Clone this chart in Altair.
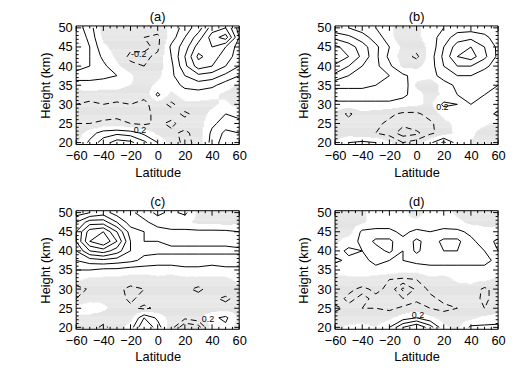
import altair as alt
import numpy as np
import pandas as pd

# ---------------- data ----------------
LATS = [-60, -50, -40, -30, -20, -10, 0, 10, 20, 30, 40, 50, 60]
HEIGHTS_TOP_DOWN = [50, 47.5, 45, 42.5, 40, 37.5, 35, 32.5, 30, 27.5, 25, 22.5, 20]
LEVELS = [-0.8, -0.6, -0.4, -0.2, 0.2, 0.4, 0.6, 0.8, 1.0, 1.2, 1.4, 1.6]
X_TICKS = [-60, -40, -20, 0, 20, 40, 60]
Y_TICKS = [20, 25, 30, 35, 40, 45, 50]
X_MINOR = [-55, -50, -45, -35, -30, -25, -15, -10, -5, 5, 10, 15, 25, 30, 35, 45, 50, 55]
Y_MINOR = [21, 22, 23, 24, 26, 27, 28, 29, 31, 32, 33, 34, 36, 37, 38, 39, 41, 42, 43, 44, 46, 47, 48, 49]
PANEL_TITLES = ["(a)", "(b)", "(c)", "(d)"]

# contour labels: text, latitude, height
LABELS_A = [["-0.2", -14, 43.2], ["0.2", -13, 23.2]]
LABELS_B = [["0.2", 19, 29.3]]
LABELS_C = [["0.2", 37, 22.3]]
LABELS_D = [["0.2", 1, 23.2]]

# rows: height 50 -> 20 ; columns: latitude -60 -> 60
FIELD_A = [
    [0.50, 0.30, -0.10, -0.15, -0.10, -0.15, -0.10, 0.05, 0.30, 0.50, 0.90, 1.00, 0.50],
    [0.55, 0.35, -0.05, -0.10, -0.15, -0.20, -0.25, 0.10, 0.40, 0.70, 1.10, 1.30, 0.60],
    [0.60, 0.40, 0.05, -0.10, -0.15, -0.15, -0.25, 0.25, 0.50, 0.90, 1.00, 0.80, 0.50],
    [0.60, 0.40, 0.15, -0.05, -0.25, -0.25, -0.15, 0.20, 0.60, 1.05, 0.90, 0.70, 0.50],
    [0.50, 0.40, 0.25, 0.05, -0.15, -0.20, -0.10, 0.15, 0.55, 0.90, 0.80, 0.60, 0.40],
    [0.30, 0.25, 0.25, 0.20, 0.05, -0.15, -0.05, 0.15, 0.40, 0.55, 0.50, 0.35, 0.20],
    [0.10, 0.15, 0.10, 0.05, 0.00, -0.10, 0.05, 0.10, 0.25, 0.30, 0.25, 0.10, -0.05],
    [-0.10, -0.10, -0.10, -0.05, -0.10, -0.15, 0.25, -0.05, 0.10, 0.10, 0.05, -0.05, -0.10],
    [-0.20, -0.25, -0.20, -0.25, -0.20, -0.25, -0.10, -0.25, -0.05, -0.05, -0.05, 0.05, -0.10],
    [-0.25, -0.30, -0.30, -0.25, -0.25, -0.25, -0.15, -0.10, -0.25, -0.10, 0.05, 0.20, 0.15],
    [-0.20, -0.20, -0.15, -0.15, -0.20, -0.25, -0.15, -0.25, -0.10, -0.10, 0.15, 0.30, 0.25],
    [-0.10, 0.10, 0.30, 0.35, 0.30, 0.15, -0.05, -0.15, -0.25, -0.10, 0.25, 0.45, 0.40],
    [-0.05, 0.25, 0.50, 0.70, 0.65, 0.45, 0.20, -0.10, -0.25, -0.15, 0.30, 0.50, 0.45],
]
FIELD_B = [
    [0.45, 0.40, 0.30, 0.20, 0.05, -0.15, -0.05, 0.10, 0.20, 0.30, 0.30, 0.30, 0.20],
    [0.75, 0.65, 0.50, 0.30, 0.10, -0.20, -0.05, 0.10, 0.30, 0.50, 0.55, 0.45, 0.30],
    [1.05, 0.90, 0.70, 0.45, 0.20, -0.05, -0.10, 0.05, 0.40, 0.70, 0.80, 0.60, 0.35],
    [1.20, 1.00, 0.75, 0.45, 0.15, -0.10, -0.25, 0.10, 0.45, 0.80, 0.90, 0.65, 0.35],
    [0.95, 0.80, 0.60, 0.45, 0.25, -0.05, -0.05, 0.10, 0.40, 0.60, 0.60, 0.45, 0.30],
    [0.75, 0.60, 0.50, 0.45, 0.40, 0.25, 0.10, 0.10, 0.30, 0.40, 0.40, 0.30, 0.25],
    [0.45, 0.45, 0.45, 0.40, 0.35, 0.35, -0.05, -0.15, 0.10, 0.25, 0.25, 0.25, 0.20],
    [0.30, 0.30, 0.30, 0.30, 0.30, 0.25, 0.10, -0.10, 0.05, 0.20, 0.25, 0.20, 0.15],
    [0.15, 0.15, 0.15, 0.15, 0.15, 0.10, 0.05, -0.05, 0.25, 0.20, 0.20, 0.15, 0.10],
    [-0.05, -0.25, -0.05, -0.10, -0.15, -0.25, -0.25, -0.10, 0.05, 0.15, 0.15, 0.10, 0.25],
    [-0.10, -0.10, -0.10, -0.15, -0.25, -0.35, -0.25, -0.25, -0.05, 0.05, 0.10, 0.05, -0.05],
    [-0.10, -0.10, -0.15, -0.20, -0.30, -0.50, -0.45, -0.25, -0.10, 0.05, 0.05, -0.10, -0.15],
    [0.00, 0.20, 0.25, 0.20, 0.05, -0.20, -0.10, 0.15, 0.45, 0.10, 0.00, -0.10, -0.10],
]
FIELD_C = [
    [0.30, 0.40, 0.50, 0.30, 0.25, 0.10, 0.25, 0.15, 0.25, -0.05, -0.05, -0.05, -0.05],
    [0.60, 0.90, 0.90, 0.60, 0.30, 0.25, 0.10, 0.05, 0.05, -0.05, -0.05, -0.10, -0.05],
    [0.80, 1.30, 1.40, 1.00, 0.50, 0.40, 0.30, 0.25, 0.25, 0.25, 0.25, 0.25, 0.20],
    [0.80, 1.40, 1.60, 1.20, 0.60, 0.40, 0.40, 0.35, 0.35, 0.35, 0.35, 0.35, 0.30],
    [0.60, 1.00, 1.10, 0.90, 0.60, 0.45, 0.45, 0.45, 0.45, 0.45, 0.45, 0.45, 0.45],
    [0.40, 0.50, 0.55, 0.50, 0.45, 0.35, 0.30, 0.30, 0.30, 0.30, 0.30, 0.30, 0.30],
    [0.20, 0.20, 0.15, 0.15, 0.10, 0.10, 0.10, 0.10, 0.15, 0.15, 0.10, 0.15, 0.15],
    [0.05, -0.05, -0.05, -0.05, -0.10, -0.10, -0.05, -0.10, -0.05, -0.05, -0.05, -0.05, 0.05],
    [-0.35, -0.15, -0.10, -0.15, -0.25, -0.20, -0.10, -0.10, -0.15, -0.25, -0.10, -0.05, -0.05],
    [-0.20, -0.05, -0.05, -0.10, -0.25, -0.10, -0.10, -0.10, -0.10, -0.10, -0.15, -0.25, -0.10],
    [0.10, 0.10, 0.05, -0.10, -0.15, -0.25, -0.15, -0.10, -0.10, -0.10, -0.10, -0.10, -0.05],
    [-0.05, -0.05, -0.10, -0.10, -0.10, 0.40, 0.15, -0.10, -0.15, -0.05, 0.15, 0.25, -0.05],
    [-0.05, -0.10, -0.25, -0.10, 0.10, 0.60, 0.30, -0.10, -0.60, -0.50, 0.10, 0.15, -0.10],
]
FIELD_D = [
    [-0.05, -0.05, -0.05, 0.15, 0.10, 0.05, -0.10, 0.10, 0.10, -0.05, -0.05, -0.05, -0.05],
    [-0.05, -0.10, -0.05, 0.10, 0.10, 0.05, 0.05, 0.15, 0.10, 0.05, -0.05, -0.05, -0.05],
    [-0.05, -0.10, 0.25, 0.25, 0.25, 0.15, 0.25, 0.20, 0.25, 0.25, 0.15, 0.05, 0.05],
    [-0.05, 0.10, 0.25, 0.45, 0.45, 0.25, 0.45, 0.30, 0.45, 0.45, 0.25, 0.10, 0.25],
    [0.10, 0.25, 0.20, 0.30, 0.45, 0.20, 0.45, 0.25, 0.40, 0.40, 0.25, 0.20, 0.20],
    [0.25, 0.15, 0.15, 0.25, 0.20, 0.20, 0.25, 0.25, 0.25, 0.25, 0.25, 0.25, 0.15],
    [0.05, 0.10, 0.15, 0.15, 0.15, 0.10, 0.10, 0.15, 0.15, 0.15, 0.15, 0.15, 0.10],
    [-0.05, -0.05, -0.05, -0.10, -0.20, -0.25, -0.20, -0.05, -0.10, 0.05, 0.05, 0.05, -0.05],
    [-0.10, -0.15, -0.25, -0.15, -0.25, -0.65, -0.35, -0.15, -0.10, -0.10, -0.05, -0.25, -0.10],
    [-0.10, -0.25, -0.15, -0.25, -0.25, -0.40, -0.25, -0.25, -0.15, -0.15, -0.10, -0.25, -0.10],
    [-0.25, -0.15, -0.20, -0.20, -0.25, -0.15, -0.10, -0.20, -0.25, -0.20, -0.15, -0.20, -0.10],
    [-0.10, -0.15, -0.15, -0.15, -0.05, 0.10, 0.20, 0.05, -0.10, -0.10, -0.05, 0.05, 0.10],
    [-0.05, 0.05, 0.10, 0.00, 0.20, 0.60, 0.80, 0.50, 0.05, -0.05, 0.25, 0.25, 0.25],
]
FIELDS = [FIELD_A, FIELD_B, FIELD_C, FIELD_D]
LABELS = [LABELS_A, LABELS_B, LABELS_C, LABELS_D]

# ---------------- helpers ----------------
XS = np.array(LATS, dtype=float)
YS = np.array(HEIGHTS_TOP_DOWN[::-1], dtype=float)
X_DOMAIN = [-60, 60]
Y_DOMAIN = [19.5, 50.5]
W, H = 165, 120
FONT = "Liberation Sans"
SHADE = "#e4e4e4"


def contour_paths(Z, level):
    ny, nx = Z.shape
    adj = {}

    def link(a, b):
        adj.setdefault(a, []).append(b)
        adj.setdefault(b, []).append(a)

    for j in range(ny - 1):
        for i in range(nx - 1):
            c = [Z[j, i], Z[j, i + 1], Z[j + 1, i + 1], Z[j + 1, i]]
            up = [v > level for v in c]
            edges = [("h", i, j), ("v", i + 1, j), ("h", i, j + 1), ("v", i, j)]
            cross = [k for k in range(4) if up[k] != up[(k + 1) % 4]]
            if len(cross) == 2:
                link(edges[cross[0]], edges[cross[1]])
            elif len(cross) == 4:
                center = np.mean(c) > level
                for k in range(4):
                    if up[k] != center:
                        link(edges[(k - 1) % 4], edges[k])

    def point(key):
        kind, i, j = key
        if kind == "h":
            za, zb = Z[j, i], Z[j, i + 1]
            t = (level - za) / (zb - za)
            return XS[i] + t * (XS[i + 1] - XS[i]), YS[j]
        za, zb = Z[j, i], Z[j + 1, i]
        t = (level - za) / (zb - za)
        return XS[i], YS[j] + t * (YS[j + 1] - YS[j])

    used = set()

    def walk(start):
        path = [start]
        cur = start
        while True:
            nxt = None
            for n in adj[cur]:
                k = frozenset((cur, n))
                if k not in used:
                    used.add(k)
                    nxt = n
                    break
            if nxt is None:
                break
            path.append(nxt)
            cur = nxt
            if cur == start:
                break
        return path

    paths = []
    for k, v in adj.items():
        if len(v) == 1 and frozenset((k, v[0])) not in used:
            paths.append(walk(k))
    for k in list(adj.keys()):
        if any(frozenset((k, n)) not in used for n in adj[k]):
            paths.append(walk(k))
    return [[point(p) for p in path] for path in paths]


def field_at(Z, lat, h):
    h = min(max(h, YS[0]), YS[-1])
    lat = min(max(lat, XS[0]), XS[-1])
    fi = (lat - XS[0]) / 10.0
    fj = (h - YS[0]) / 2.5
    i0 = min(int(np.floor(fi)), len(XS) - 2)
    j0 = min(int(np.floor(fj)), len(YS) - 2)
    tx, ty = fi - i0, fj - j0
    return ((1 - tx) * (1 - ty) * Z[j0, i0] + tx * (1 - ty) * Z[j0, i0 + 1]
            + tx * ty * Z[j0 + 1, i0 + 1] + (1 - tx) * ty * Z[j0 + 1, i0])


xscale = alt.Scale(domain=X_DOMAIN, nice=False, zero=False, padding=0)
yscale = alt.Scale(domain=Y_DOMAIN, nice=False, zero=False, padding=0)
AX_COMMON = dict(ticks=False, tickSize=0, domain=False, grid=False,
                 labelOverlap=False, labelFlush=False,
                 labelFont=FONT, labelFontSize=13, labelColor="black",
                 titleFont=FONT, titleFontSize=13, titleFontWeight="normal", titleColor="black")
xaxis = alt.Axis(values=X_TICKS, labelPadding=5, title="Latitude", titlePadding=4, format="d", **AX_COMMON)
yaxis = alt.Axis(values=Y_TICKS, labelPadding=4, title="Height (km)", titlePadding=6, **AX_COMMON)


def panel(field, labels, title):
    Z = np.array(field, dtype=float)[::-1]
    # shading of negative values
    rects = []
    lat_c = np.arange(-59.5, 60, 1.0)
    h_c = np.arange(19.625, 50.5, 0.25)
    for hc in h_c:
        run = None
        for lc in lat_c:
            neg = field_at(Z, lc, hc) < 0
            if neg and run is None:
                run = lc
            if not neg and run is not None:
                rects.append(dict(x1=run - 0.5, x2=lc - 0.5, y1=hc - 0.13, y2=hc + 0.16))
                run = None
        if run is not None:
            rects.append(dict(x1=run - 0.5, x2=60, y1=hc - 0.13, y2=hc + 0.16))
    shade_df = pd.DataFrame(rects)

    rows = []
    lid = 0
    for lev in LEVELS:
        for path in contour_paths(Z, lev):
            for o, (x, y) in enumerate(path):
                rows.append(dict(lat=x, h=y, lid=lid, o=o, neg=lev < 0))
            lid += 1
    lines = pd.DataFrame(rows)

    shade = alt.Chart(shade_df).mark_rect(color=SHADE, strokeWidth=0).encode(
        x=alt.X("x1:Q", scale=xscale, axis=xaxis),
        x2="x2:Q",
        y=alt.Y("y1:Q", scale=yscale, axis=yaxis),
        y2="y2:Q",
    )
    solid = alt.Chart(lines[~lines.neg]).mark_line(color="black", strokeWidth=1).encode(
        x=alt.X("lat:Q", scale=xscale, axis=xaxis),
        y=alt.Y("h:Q", scale=yscale, axis=yaxis),
        detail="lid:N", order="o:Q")
    dashed = alt.Chart(lines[lines.neg]).mark_line(color="black", strokeWidth=1, strokeDash=[6, 4]).encode(
        x=alt.X("lat:Q", scale=xscale, axis=xaxis),
        y=alt.Y("h:Q", scale=yscale, axis=yaxis),
        detail="lid:N", order="o:Q")
    lab_df = pd.DataFrame(labels, columns=["t", "lat", "h"])
    text = alt.Chart(lab_df).mark_text(font=FONT, fontSize=9, color="black").encode(
        x=alt.X("lat:Q", scale=xscale, axis=xaxis),
        y=alt.Y("h:Q", scale=yscale, axis=yaxis),
        text="t:N")

    xt = pd.DataFrame({"v": X_TICKS})
    xm = pd.DataFrame({"v": X_MINOR})
    yt = pd.DataFrame({"v": Y_TICKS})
    ym = pd.DataFrame({"v": Y_MINOR})
    tick_layers = []
    for df, ln in ((xt, 5), (xm, 2.5)):
        for y0, y1 in ((H, H - ln), (0, ln)):
            tick_layers.append(alt.Chart(df).mark_rule(color="black", strokeWidth=1).encode(
                x=alt.X("v:Q", scale=xscale, axis=xaxis), y=alt.value(y0), y2=alt.value(y1)))
    for df, ln in ((yt, 5), (ym, 2.5)):
        for x0, x1 in ((0, ln), (W, W - ln)):
            tick_layers.append(alt.Chart(df).mark_rule(color="black", strokeWidth=1).encode(
                y=alt.Y("v:Q", scale=yscale, axis=yaxis), x=alt.value(x0), x2=alt.value(x1)))
    frame = alt.Chart(pd.DataFrame({"v": [0]})).mark_rect(
        fill=None, fillOpacity=0, stroke="black", strokeWidth=1).encode(
        x=alt.value(0), x2=alt.value(W), y=alt.value(0), y2=alt.value(H))

    return alt.layer(shade, solid, dashed, text, *tick_layers, frame).properties(
        width=W, height=H,
        title=alt.TitleParams(title, fontSize=13, fontWeight="normal", font=FONT, offset=-2, color="black"))


pa, pb, pc, pd_ = [panel(f, l, t) for f, l, t in zip(FIELDS, LABELS, PANEL_TITLES)]
chart = alt.vconcat(
    alt.hconcat(pa, pb, spacing=51),
    alt.hconcat(pc, pd_, spacing=51),
    spacing=16,
).properties(
    padding={"left": 31, "top": 0, "right": 0, "bottom": 0},
    background="white",
).configure_view(
    stroke=None
)

chart.save("out.html", embed_options={"renderer": "svg", "actions": False})
